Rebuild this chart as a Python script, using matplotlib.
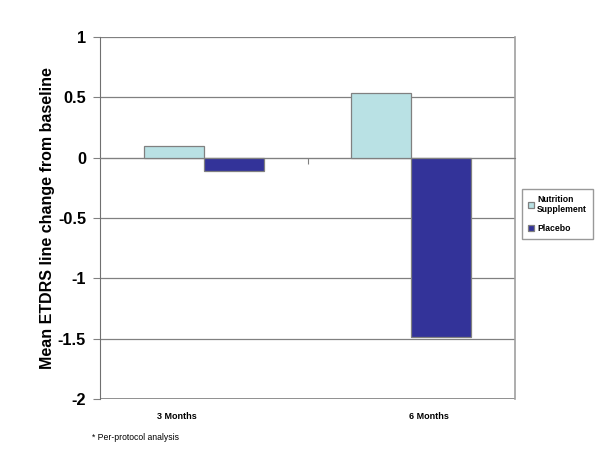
import matplotlib
matplotlib.use("Agg")
import matplotlib.pyplot as plt
import numpy as np

plt.rcParams['font.family'] = ['Liberation Sans', 'DejaVu Sans']

# dados
categorias = ["3 Months", "6 Months"]
suplemento = [0.10, 0.54]
placebo = [-0.11, -1.49]
series = ["Nutrition\nSupplement", "Placebo"]
cores = ["#B9E1E4", "#333399"]
yticks = [1, 0.5, 0, -0.5, -1, -1.5, -2]
nota = "* Per-protocol analysis"

fig = plt.figure(figsize=(6, 4.63), dpi=100)
ax = fig.add_axes([100/600, 1 - 399/463, 415/600, 362/463])

x = np.arange(len(categorias))
largura = 0.29
ax.bar(x - largura/2, suplemento, largura, color=cores[0], edgecolor="#808080",
       linewidth=0.9, label=series[0], zorder=3)
ax.bar(x + largura/2, placebo, largura, color=cores[1], edgecolor="#808080",
       linewidth=0.9, label=series[1], zorder=3)

ax.set_xlim(-0.5, 1.5)
ax.set_ylim(-2, 1)
ax.set_yticks(yticks)
ax.set_yticklabels([f"{v:g}" for v in yticks], fontsize=11.8, fontweight="bold")
ax.yaxis.grid(True, color="#808080", linewidth=0.9, zorder=0)
ax.axhline(-2, color="#808080", linewidth=1.2, zorder=1)

# eixo das categorias passa no zero
ax.spines['bottom'].set_position(('data', 0))
ax.spines['bottom'].set_color("#808080")
ax.spines['top'].set_visible(False)
ax.spines['left'].set_color("#707070")
ax.spines['right'].set_color("#a0a0a0")
ax.spines['right'].set_linewidth(1.2)
ax.set_xticks([0.5])
ax.set_xticklabels([""])
ax.tick_params(axis='x', direction='out', length=4, color="#808080")
ax.tick_params(axis='y', direction='out', length=5, color="#808080", pad=5)

# rótulos das categorias (ficam embaixo, um pouco deslocados como no original)
pos_rotulos = [-0.13, 1.085]
for px, nome in zip(pos_rotulos, categorias):
    ax.text(px, -0.035, nome, transform=ax.get_xaxis_transform(), ha="center",
            va="top", fontsize=6.5, fontweight="bold")

ax.set_ylabel("Mean ETDRS line change from baseline", fontsize=11.5,
              fontweight="bold", labelpad=2)

leg = ax.legend(loc="upper left", bbox_to_anchor=(522/600, 1 - 189/463),
                bbox_transform=fig.transFigure, frameon=True,
                fancybox=False, edgecolor="#808080", handlelength=0.7,
                handleheight=0.7, handletextpad=0.35, borderpad=0.7,
                borderaxespad=0, labelspacing=1.1,
                prop={'weight': 'bold', 'size': 6.2})
leg.get_frame().set_linewidth(1.0)

fig.text(92/600, 1 - 438/463, nota, fontsize=6.2, va="center")

fig.savefig("out.png", dpi=100, facecolor="white")
